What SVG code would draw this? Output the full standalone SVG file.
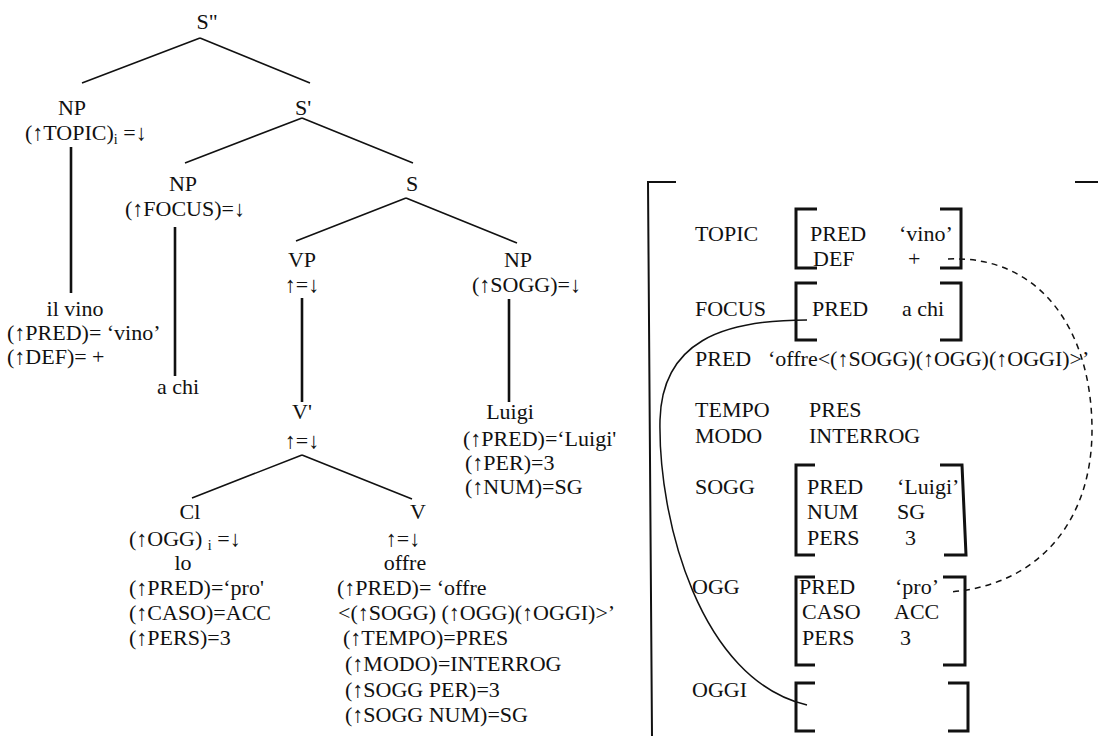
<svg xmlns="http://www.w3.org/2000/svg" width="1098" height="736" viewBox="0 0 1098 736">
<style>
text{font-family:"Liberation Serif","Times New Roman",serif;font-size:22px;fill:#111}
.c{text-anchor:middle}
.sub{font-size:14px}
.edge{stroke:#111;stroke-width:1.6;fill:none}
.vert{stroke:#111;stroke-width:2.6;fill:none}
.br{stroke:#111;stroke-width:3;fill:none}
.big{stroke:#111;stroke-width:2;fill:none}
.link{stroke:#111;stroke-width:1.5;fill:none}
.dash{stroke:#111;stroke-width:1.5;fill:none;stroke-dasharray:6 5}
</style>
<rect width="1098" height="736" fill="#fff"/>
<g id="connectors">
<path class="edge" d="M200,38 L82,83 M200,38 L310,83"/>
<path class="edge" d="M302,118 L185,163 M302,118 L413,163"/>
<path class="edge" d="M406,198 L296,241 M406,198 L517,243"/>
<path class="edge" d="M302,455 L192,498 M302,455 L412,499"/>
<path class="vert" d="M71,147 L71,293"/>
<path class="vert" d="M175,227 L175,376"/>
<path class="vert" d="M302,298 L302,402"/>
<path class="vert" d="M509,299 L509,402"/>
<path class="link" d="M807,320 C722,320 662,342 660,420 C658,520 700,680 807,705"/>
<path class="dash" d="M948,259 C1040,255 1092,330 1092,430 C1092,520 1040,585 950,592"/>
</g>
<g id="n-S2"><text class="c" x="207" y="29">S"</text></g>
<g id="n-NP-topic"><text class="c" x="72" y="115">NP</text><text x="25" y="140">(↑TOPIC)<tspan class="sub" dy="4">i</tspan><tspan dy="-4"> =↓</tspan></text></g>
<g id="n-S1"><text class="c" x="303" y="115">S'</text></g>
<g id="n-NP-focus"><text class="c" x="183" y="191">NP</text><text x="125" y="216">(↑FOCUS)=↓</text></g>
<g id="n-S"><text class="c" x="412" y="191">S</text></g>
<g id="n-VP"><text class="c" x="302" y="267">VP</text><text class="c" x="302" y="292">↑=↓</text></g>
<g id="n-NP-sogg"><text class="c" x="518" y="267">NP</text><text x="472" y="292">(↑SOGG)=↓</text></g>
<g id="n-ilvino"><text class="c" x="75" y="316">il vino</text><text x="7" y="340">(↑PRED)= ‘vino’</text><text x="7" y="364">(↑DEF)= +</text></g>
<g id="n-achi"><text x="157" y="394">a chi</text></g>
<g id="n-V1"><text class="c" x="302" y="419">V'</text><text class="c" x="302" y="448">↑=↓</text></g>
<g id="n-Luigi"><text class="c" x="510" y="419">Luigi</text><text x="463" y="446">(↑PRED)=‘Luigi'</text><text x="465" y="470">(↑PER)=3</text><text x="465" y="494">(↑NUM)=SG</text></g>
<g id="n-Cl"><text class="c" x="190" y="519">Cl</text><text x="129" y="546">(↑OGG) <tspan class="sub" dy="4">i</tspan><tspan dy="-4"> =↓</tspan></text><text class="c" x="183" y="570">lo</text><text x="129" y="595">(↑PRED)=‘pro'</text><text x="129" y="620">(↑CASO)=ACC</text><text x="129" y="645">(↑PERS)=3</text></g>
<g id="n-V"><text class="c" x="418" y="519">V</text><text class="c" x="403" y="546">↑=↓</text><text class="c" x="405" y="570">offre</text><text x="337" y="595">(↑PRED)= ‘offre</text><text x="338" y="620">&lt;(↑SOGG) (↑OGG)(↑OGGI)&gt;’</text><text x="343" y="645">(↑TEMPO)=PRES</text><text x="345" y="671">(↑MODO)=INTERROG</text><text x="345" y="697">(↑SOGG PER)=3</text><text x="345" y="722">(↑SOGG NUM)=SG</text></g>
<g id="fstructure">
<path class="big" d="M676,182 L648,182 L652,736 M1075,182 L1098,182"/>
<g id="f-topic"><text x="695" y="241">TOPIC</text><path class="br" d="M817,209 L796,209 L796,268 L817,268 M940,209 L961,209 L961,268 L940,268"/><text x="810" y="241">PRED</text><text x="899" y="241">‘vino’</text><text x="813" y="266">DEF</text><text x="908" y="266">+</text></g>
<g id="f-focus"><text x="695" y="316">FOCUS</text><path class="br" d="M817,283 L796,283 L796,340 L817,340 M940,283 L961,283 L961,340 L940,340"/><text x="812" y="316">PRED</text><text x="902" y="316">a chi</text></g>
<g id="f-pred"><text x="695" y="366">PRED</text><text x="768" y="366">‘offre&lt;(↑SOGG)(↑OGG)(↑OGGI)&gt;’</text></g>
<g id="f-tempo"><text x="695" y="417">TEMPO</text><text x="809" y="417">PRES</text><text x="695" y="443">MODO</text><text x="809" y="443">INTERROG</text></g>
<g id="f-sogg"><text x="695" y="494">SOGG</text><path class="br" d="M815,465 L796,465 L796,555 L815,555 M940,465 L962,465 L966,555 L944,555"/><text x="807" y="494">PRED</text><text x="897" y="494">‘Luigi’</text><text x="807" y="519">NUM</text><text x="897" y="519">SG</text><text x="807" y="545">PERS</text><text x="905" y="545">3</text></g>
<g id="f-ogg"><text x="692" y="594">OGG</text><path class="br" d="M815,577 L796,577 L796,665 L815,665 M943,577 L965,577 L965,665 L943,665"/><text x="799" y="594">PRED</text><text x="895" y="594">‘pro’</text><text x="802" y="619">CASO</text><text x="894" y="619">ACC</text><text x="802" y="645">PERS</text><text x="900" y="645">3</text></g>
<g id="f-oggi"><text x="692" y="697">OGGI</text><path class="br" d="M815,683 L796,683 L796,731 L815,731 M948,683 L968,683 L968,731 L948,731"/></g>
</g>
</svg>
